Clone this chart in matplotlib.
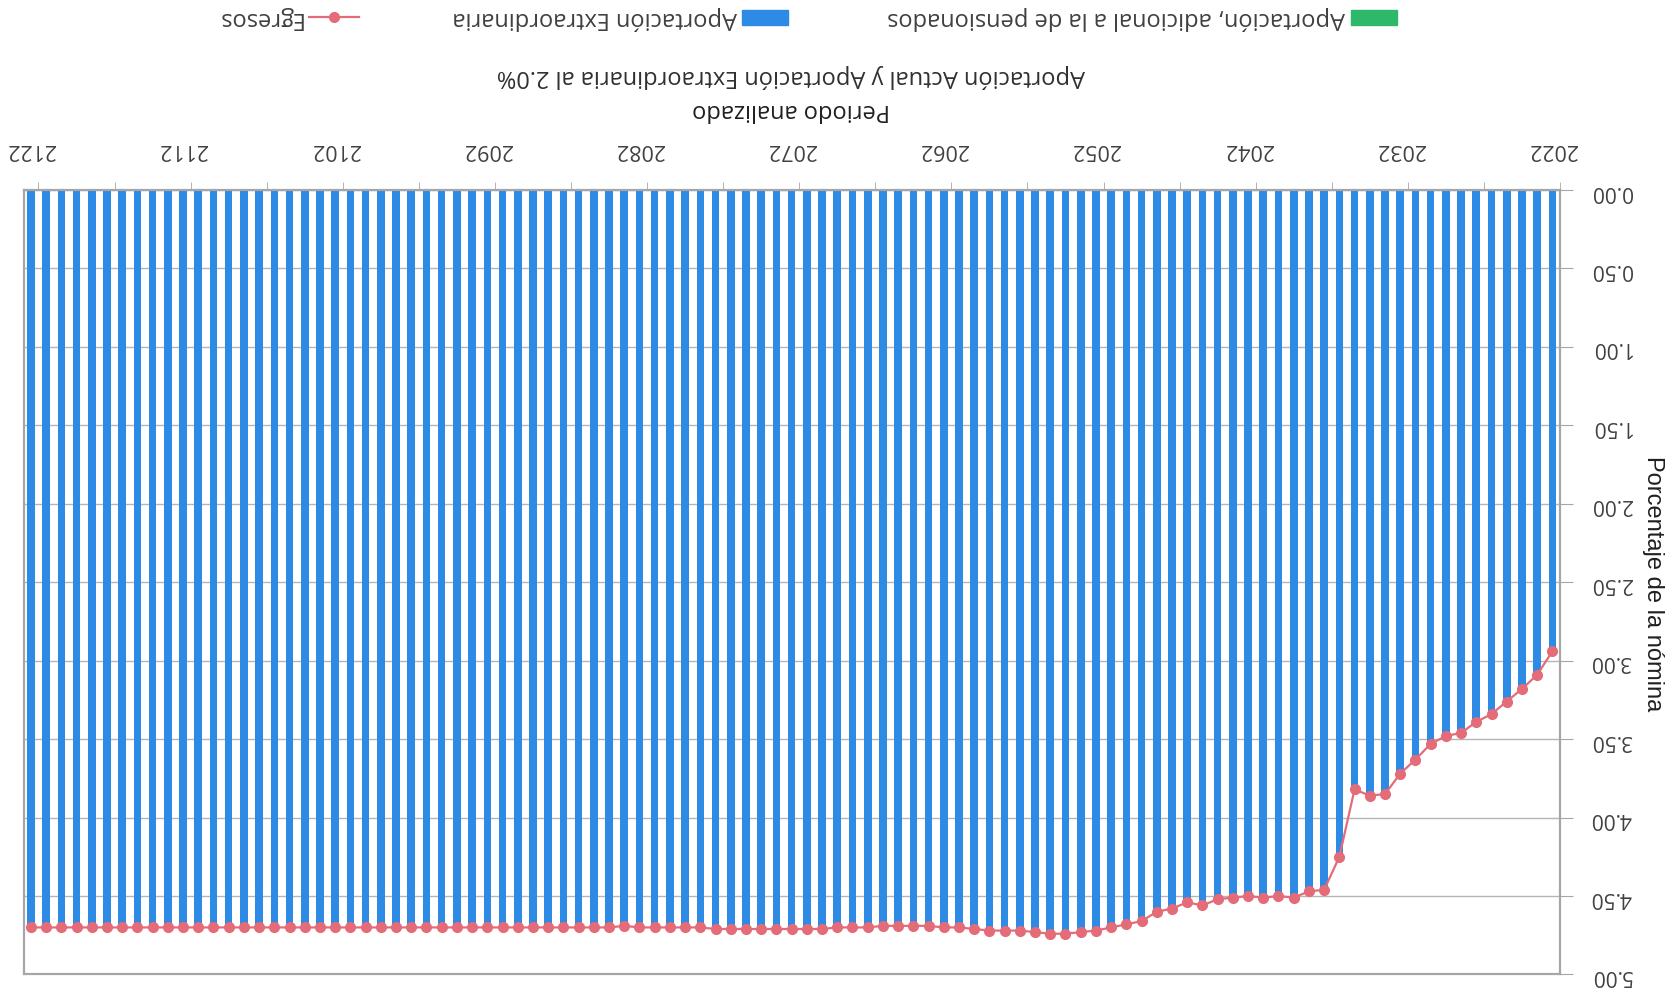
import matplotlib
matplotlib.use('Agg')
import matplotlib.pyplot as plt
from matplotlib.patches import Rectangle
from matplotlib.lines import Line2D
import numpy as np

# ===== Data (read from the scanned, upside-down chart) =====
years = list(range(2022, 2123))

egresos = [2.94, 3.09, 3.18, 3.26, 3.34, 3.39, 3.46, 3.48, 3.53, 3.63,
           3.72, 3.85, 3.86, 3.82, 4.25, 4.46, 4.47, 4.51, 4.50, 4.51,
           4.50, 4.51, 4.52, 4.56, 4.54, 4.58, 4.60, 4.66, 4.68, 4.70,
           4.72, 4.73, 4.74, 4.74, 4.73, 4.72, 4.72, 4.72, 4.71, 4.70,
           4.70, 4.69, 4.69, 4.69, 4.69, 4.70, 4.70, 4.70, 4.71, 4.71,
           4.71, 4.71, 4.71, 4.71, 4.71, 4.71, 4.70, 4.70, 4.70, 4.70,
           4.70, 4.69, 4.70, 4.70, 4.70, 4.70, 4.70, 4.70, 4.70, 4.70,
           4.70, 4.70, 4.70, 4.70, 4.70, 4.70, 4.70, 4.70, 4.70, 4.70,
           4.70, 4.70, 4.70, 4.70, 4.70, 4.70, 4.70, 4.70, 4.70, 4.70,
           4.70, 4.70, 4.70, 4.70, 4.70, 4.70, 4.70, 4.70, 4.70, 4.70,
           4.70]

# blue bars reach the Egresos line; the green series is not visible (zero)
aportacion_extra = list(egresos)
aportacion_adicional = [0.0] * len(years)

year_labels = list(range(2022, 2123, 10))
y_ticks = [0.0, 0.5, 1.0, 1.5, 2.0, 2.5, 3.0, 3.5, 4.0, 4.5, 5.0]

legend_names = ["Aportación, adicional a la de pensionados",
                "Aportación Extraordinaria", "Egresos"]

# ===== Style =====
BLUE = '#2D8AE5'
GREEN = '#2DB86A'
RED = '#E46C78'
TXT = '#404040'
FONT = ['Open Sans', 'DejaVu Sans']
plt.rcParams['font.family'] = FONT

fig = plt.figure(figsize=(16.81, 9.95), dpi=100)
ax = fig.add_axes([0.0143, 0.0196, 0.9137, 0.7884])

ax.bar(years, aportacion_extra, width=0.5, color=BLUE, zorder=2)
ax.bar(years, aportacion_adicional, width=0.5, bottom=aportacion_extra,
       color=GREEN, zorder=2)
ax.plot(years, egresos, color=RED, lw=1.6, marker='o', ms=7, zorder=3)

# the whole chart is turned 180 degrees
ax.set_xlim(2122.45, 2021.55)
ax.set_ylim(5, 0)

ax.xaxis.tick_top()
ax.set_xticks(year_labels)
ax.set_xticklabels([str(y) for y in year_labels], rotation=180,
                   fontsize=15.5, color=TXT)
ax.set_xticks(np.arange(2021.5, 2123, 5), minor=True)
ax.tick_params(axis='x', which='major', length=0, pad=22)
ax.tick_params(axis='x', which='minor', length=6, color='#A6A6A6', top=True)

ax.yaxis.tick_right()
ax.set_yticks(y_ticks)
ax.set_yticklabels([f"{v:.2f}" for v in y_ticks], rotation=180,
                   fontsize=15, color=TXT)
for t in ax.get_yticklabels():
    t.set_va('center')
ax.tick_params(axis='y', length=9, color='#A6A6A6', pad=13)

ax.set_ylabel("Porcentaje de la nómina", rotation=270, fontsize=17,
              family=['Liberation Sans Narrow', 'Liberation Sans', 'DejaVu Sans'],
              color='#202020')
ax.yaxis.set_label_position('right')
ax.yaxis.set_label_coords(1.068, 0.5)

ax.grid(axis='y', color='#B5B5B5', lw=1, zorder=0)
ax.set_axisbelow(True)
for spine in ax.spines.values():
    spine.set_color('#A6A6A6')
    spine.set_linewidth(1.6)

# ===== Titles (upside down, above the plot) =====
fig.text(0.4706, 1 - 110 / 995, "Periodo analizado", rotation=180,
         ha='center', va='center', fontsize=17, color='#202020')
fig.text(0.4706, 1 - 76 / 995,
         "Aportación Actual y Aportación Extraordinaria al 2.0%",
         rotation=180, ha='center', va='center', fontsize=17, color='#303030')

# ===== Legend drawn by hand so it can be turned too =====
ly = 1 - 18 / 995
lh = 15 / 995
fig.patches.append(Rectangle((1351 / 1681, ly - lh / 2), 46 / 1681, lh,
                             transform=fig.transFigure, color=GREEN))
fig.text(1345 / 1681, ly, legend_names[0], rotation=180, ha='right',
         va='center', fontsize=17, color=TXT)
fig.patches.append(Rectangle((742 / 1681, ly - lh / 2), 46 / 1681, lh,
                             transform=fig.transFigure, color=BLUE))
fig.text(737 / 1681, ly, legend_names[1], rotation=180, ha='right',
         va='center', fontsize=17, color=TXT)
fig.lines.append(Line2D([309 / 1681, 359 / 1681], [ly, ly],
                        transform=fig.transFigure, color=RED, lw=1.6))
fig.lines.append(Line2D([334 / 1681], [ly], transform=fig.transFigure,
                        color=RED, marker='o', ms=7))
fig.text(302 / 1681, ly, legend_names[2], rotation=180, ha='right',
         va='center', fontsize=17, color=TXT)

fig.savefig('out.png', dpi=100, facecolor='white')
